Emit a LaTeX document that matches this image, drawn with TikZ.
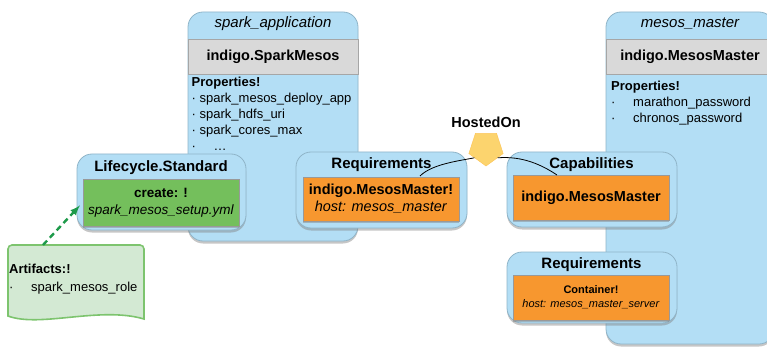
\documentclass[tikz,border=0pt]{standalone}
\usepackage{fontspec}
\setmainfont{Liberation Sans}
\usetikzlibrary{shapes.geometric,shadows}

\definecolor{appblue}{HTML}{B3DEF5}
\definecolor{appline}{HTML}{8FB4C8}
\definecolor{bandgray}{HTML}{D9D9D9}
\definecolor{opgreen}{HTML}{74BF5C}
\definecolor{reqorange}{HTML}{F7972F}
\definecolor{artgreen}{HTML}{D3E9D3}
\definecolor{artline}{HTML}{7DC46E}
\definecolor{arrowgreen}{HTML}{1E9A4A}
\definecolor{hostyellow}{HTML}{FCD46E}

\newcommand{\propdot}[1][8pt]{\makebox[#1][l]{·}}

\begin{document}
\begin{tikzpicture}[x=1pt, y=-1pt, app/.style={draw=appline, fill=appblue, rounded corners=15pt, line width=0.8pt, drop shadow={shadow xshift=0pt, shadow yshift=-2.5pt, opacity=0.45}}, band/.style={draw=gray!70, fill=bandgray, minimum height=35pt, line width=0.8pt, font=\fontsize{14.5}{17}\selectfont\bfseries}, apptitle/.style={font=\fontsize{15}{18}\selectfont\itshape}, grouptitle/.style={font=\fontsize{15}{18}\selectfont\bfseries}, props/.style={anchor=north west, inner sep=0pt, align=left, font=\fontsize{13}{16}\selectfont}, inner/.style={draw=gray!80, line width=0.6pt, minimum width=156pt, align=center, drop shadow={shadow xshift=0pt, shadow yshift=-2pt, opacity=0.45}}, deploy/.style={-latex, line width=2.4pt, draw=arrowgreen, dash pattern=on 6pt off 4pt}, host/.style={line width=0.8pt}]
            \clip (0,0) rectangle (767,347);
            % node templates
            \node[app, minimum width=170pt, minimum height=229pt] (sparkapp) at (273,126.5) {};
            \node[apptitle] (sparkname) at (273,24) {spark\_application};
            \node[band, minimum width=170pt] (sparktype) at (273,57) {indigo.SparkMesos};
            \node[props] (sparkprops) at (191.5,77) {\textbf{Properties!}\\ \propdot spark\_mesos\_deploy\_app\\ \propdot spark\_hdfs\_uri\\ \propdot spark\_cores\_max\\ \propdot[22pt]…};
            \node[app, minimum width=168pt, minimum height=332pt] (mesosapp) at (690,178) {};
            \node[apptitle] (mesosname) at (690,24) {mesos\_master};
            \node[band, minimum width=168pt] (mesostype) at (690,57) {indigo.MesosMaster};
            \node[props] (mesosprops) at (611,80.5) {\textbf{Properties!}\\ \propdot[22pt]marathon\_password\\ \propdot[22pt]chronos\_password};
            % interfaces, requirements, capabilities
            \node[app, minimum width=169pt, minimum height=76pt] (lifecycle) at (161.5,192) {};
            \node[grouptitle] (lifecyclename) at (161,168) {Lifecycle.Standard};
            \node[inner, fill=opgreen, minimum height=47pt, font=\fontsize{13.5}{17}\selectfont] (create) at (161,202.5) {\textbf{create: !}\\ \textit{spark\_mesos\_setup.yml}};
            \node[app, minimum width=171pt, minimum height=76pt] (sparkreq) at (381.5,190) {};
            \node[grouptitle] (sparkreqname) at (381.5,164.5) {Requirements};
            \node[inner, fill=reqorange, minimum height=44pt, font=\fontsize{14.5}{17}\selectfont] (sparkhost) at (381,199) {\textbf{indigo.MesosMaster!}\\ \textit{host: mesos\_master}};
            \node[app, minimum width=170pt, minimum height=75pt] (mesoscap) at (592,189.5) {};
            \node[grouptitle] (mesoscapname) at (591.5,164.5) {Capabilities};
            \node[inner, fill=reqorange, minimum height=45pt, font=\fontsize{14.5}{17}\selectfont\bfseries] (mesoshost) at (591,197.5) {indigo.MesosMaster};
            \node[app, minimum width=170pt, minimum height=71pt] (mesosreq) at (592,287.5) {};
            \node[grouptitle] (mesosreqname) at (591.5,264.5) {Requirements};
            \node[inner, fill=reqorange, minimum height=45pt, font=\fontsize{11}{14}\selectfont] (container) at (591,297.5) {\textbf{Container!}\\ \textit{host: mesos\_master\_server}};
            % relationship
            \node[regular polygon, regular polygon sides=5, shape border rotate=180, minimum size=36pt, inner sep=0pt, fill=hostyellow, draw=hostyellow!85!orange, line width=0.5pt] (hosted) at (486,148) {};
            \node[grouptitle, font=\fontsize{14.5}{17}\selectfont\bfseries] (hostedname) at (486,122) {HostedOn};
            \coordinate (hostL) at (420,176);
            \coordinate (hostR) at (557,175);
            % artifacts
            \draw[artline, fill=artgreen, line width=1.6pt] (8,316) [rounded corners=4pt] -- (8,245) -- (144,245) [sharp corners] -- (144,319) .. controls (100,306) and (40,328) .. (8,316) -- cycle;
            \node[props, font=\fontsize{13}{18}\selectfont] (arts) at (9,264) {\textbf{Artifacts:!}\\ \propdot[22pt]spark\_mesos\_role};
            \coordinate (artstop) at (43,245);
            % edges
            \draw[host] (hostL) .. controls +(12,-12) and +(-15,3) .. (hosted.220);
            \draw[host] (hosted.-40) .. controls +(25,-2) and +(-15,-10) .. (hostR);
            \draw[deploy, shorten >=4pt] (artstop) -- (create.west);
        \end{tikzpicture}
\end{document}
